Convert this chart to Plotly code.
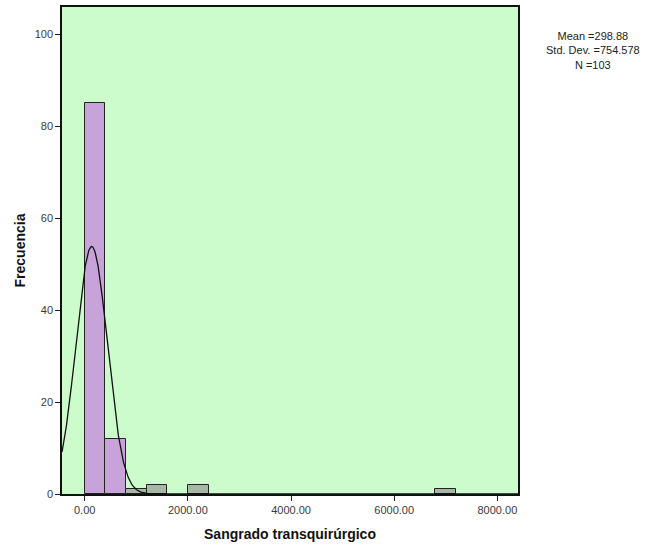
import numpy as np
import plotly.graph_objects as go

# Histogram data (bin left edges, width 400)
bin_left = [0, 400, 800, 1200, 2000, 6800]
counts = [85, 12, 1, 2, 2, 1]
bin_width = 400
bar_colors = ["#c7a3d9", "#c7a3d9", "#a8b8a6", "#a8b8a6", "#a8b8a6", "#a8b8a6"]

# Normal curve parameters as drawn
curve_mean = 135
curve_sd = 305
n_total = 103

x_ticks = [0, 2000, 4000, 6000, 8000]
y_ticks = [0, 20, 40, 60, 80, 100]

stats_text = "Mean =298.88<br>Std. Dev. =754.578<br>N =103"

centers = [b + bin_width / 2 for b in bin_left]

xc = np.linspace(-440, 8400, 1500)
yc = n_total * bin_width / (curve_sd * np.sqrt(2 * np.pi)) * np.exp(-((xc - curve_mean) ** 2) / (2 * curve_sd ** 2))

fig = go.Figure()
fig.add_trace(go.Bar(
    x=centers, y=counts, width=[bin_width] * len(counts),
    marker=dict(color=bar_colors, line=dict(color="#222222", width=1)),
    hoverinfo="x+y", showlegend=False,
))
fig.add_trace(go.Scatter(
    x=xc, y=yc, mode="lines", line=dict(color="#111111", width=1.3),
    showlegend=False, hoverinfo="skip",
))

fig.update_layout(
    width=654, height=554,
    margin=dict(l=62, r=136, t=7, b=60, autoexpand=False),
    paper_bgcolor="white",
    plot_bgcolor="#ccfccc",
    font=dict(family="Liberation Sans, Arial, sans-serif", color="#3a3a3a", size=11),
    bargap=0,
    annotations=[dict(
        text=stats_text, xref="paper", yref="paper", x=1.165, y=0.956,
        xanchor="center", yanchor="top", showarrow=False, align="center",
        font=dict(size=11, color="#222222"),
    )],
)
fig.update_xaxes(
    range=[-440, 8400], tickvals=x_ticks, tickformat=".2f",
    showgrid=False, zeroline=False,
    showline=True, linecolor="#111111", linewidth=1.5, mirror=True,
    ticks="outside", ticklen=5, tickcolor="#222222",
    title=dict(text="<b>Sangrado transquirúrgico</b>", font=dict(size=14, color="#111111"), standoff=14),
)
fig.update_yaxes(
    range=[0, 106], tickvals=y_ticks,
    showgrid=False, zeroline=False,
    showline=True, linecolor="#111111", linewidth=1.5, mirror=True,
    ticks="outside", ticklen=5, tickcolor="#222222",
    title=dict(text="<b>Frecuencia</b>", font=dict(size=14, color="#111111"), standoff=6),
)

fig.write_html("out.html", config={"displayModeBar": False},
               post_script="document.body.style.margin='0';")
